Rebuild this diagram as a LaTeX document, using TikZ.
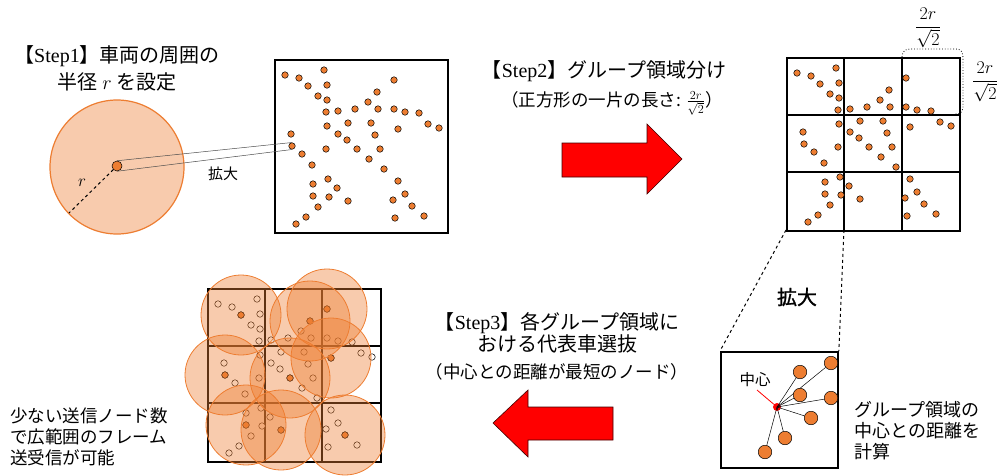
\documentclass[tikz,border=0pt]{standalone}
\usepackage{fix-cm}
\usepackage{fontspec}
\setmainfont{Liberation Serif}
\newfontfamily\jp{Noto Sans CJK JP}
\newfontfamily\jpb[FakeBold=1.2]{Noto Sans CJK JP}
\usetikzlibrary{calc}
\definecolor{org}{HTML}{ED7D31}
\definecolor{lorg}{HTML}{F8CBAD}
\newcommand\stp[1]{{\rmfamily #1}}
\begin{document}
\begin{tikzpicture}[x=1pt,y=-1pt,
  dot/.style={circle, fill=org, draw=black, line width=0.5pt, inner sep=0pt, minimum size=6.5pt},
  odot/.style={dot, fill=white},
  bigdot/.style={dot, minimum size=13.5pt},
  frame/.style={draw=black, line width=1.8pt, inner sep=0pt, anchor=north west, minimum size=173pt},
  gridline/.style={line width=1.3pt},
  jtext/.style={font=\jp\fontsize{20}{27}\selectfont, align=center, inner sep=0pt},
  redarrow/.style={fill=red, draw=black!75!red, line width=0.6pt},
  cover/.style={circle, fill=org, fill opacity=0.4, draw=org, line width=0.8pt, minimum size=80pt, inner sep=0pt},
  link/.style={draw=gray!60!black, line width=0.5pt},
  zdash/.style={dashed, line width=1pt}
]
\useasboundingbox (0,0) rectangle (998,475);
\def\dotlist{11/16,25/19,50/11,34/27,53/26,44/37,53/41,120/21,103/33,94/43,52/53,64/52,81/50,104/50,120/50,131/53,145/54,53/67,74/64,97/64,154/65,165/69,124/70,17/75,64/75,101/76,18/87,73/81,52/90,83/90,106/90,28/95,95/100,38/106,110/110,54/120,39/125,124/122,63/129,39/137,55/138,131/135,74/142,119/141,44/148,138/147,32/158,121/159,150/157,22/165}
\def\replist{34/27,120/21,103/33,124/70,18/87,83/90,39/137,74/142,138/147}

% ---------- Step 1 ----------
\node[jtext] (s1) at (117,68) {【\stp{Step1}】車両の周囲の\\半径 $r$ を設定};
\node[circle, fill=lorg, draw=org, line width=1.2pt, minimum size=134pt, inner sep=0pt] (zone) at (117,167) {};
\node[dot, minimum size=10pt] (veh) at (117,166) {};
\coordinate (redge) at (69,213);
\draw[dashed, line width=1pt] (veh) -- (redge);
\node[font=\fontsize{17}{17}\selectfont, inner sep=0pt] (rlab) at (82,183) {$r$};

% ---------- Box 1 ----------
\node[frame] (B1) at (274,59) {};
\foreach \x/\y [count=\k] in \dotlist {
  \node[dot] (a\k) at (274+\x,59+\y) {};
}
\draw[link] (veh.north) -- (a27.north);
\draw[link] (veh.south) -- (a27.south);
\node[font=\jp\fontsize{15}{15}\selectfont, inner sep=0pt] (zl1) at (223,174) {拡大};

% ---------- Step 2 ----------
\node[jtext] (s2) at (604,71) {【\stp{Step2}】グループ領域分け};
\node[font=\jp\fontsize{17.5}{17.5}\selectfont, inner sep=0pt] (s2b) at (612,103) {（正方形の一片の長さ: $\frac{2r}{\sqrt{2}}$）};
\draw[redarrow] (562,143) -- (647,143) -- (647,124) -- (682,159) -- (647,194) -- (647,177) -- (562,177) -- cycle;

% ---------- Box 2 (grid) ----------
\draw[gridline] (844,57) -- (844,230) (902,57) -- (902,230) (786,115) -- (959,115) (786,172) -- (959,172);
\node[frame] (B2) at (786,57) {};
\foreach \x/\y [count=\k] in \dotlist {
  \node[dot] (g\k) at (786+\x,57+\y) {};
}
\draw[dotted, line width=0.8pt] (902,57) .. controls (903,50) and (905,49) .. (912,49) -- (955,49) .. controls (962,49) and (963,52) .. (963,60) -- (963,105) .. controls (963,112) and (961,114) .. (955,114);
\node[font=\fontsize{18}{18}\selectfont, inner sep=0pt] (f1) at (928,28) {$\displaystyle\frac{2r}{\sqrt{2}}$};
\node[font=\fontsize{18}{18}\selectfont, inner sep=0pt] (f2) at (985,82) {$\displaystyle\frac{2r}{\sqrt{2}}$};

% ---------- zoomed cell ----------
\node[draw=black, line width=1.8pt, inner sep=0pt, anchor=north west, minimum width=117pt, minimum height=116pt] (Z) at (720,351) {};
\coordinate (c1) at (786,230);
\coordinate (c2) at (844,230);
\draw[zdash] (c1) -- (Z.north west);
\draw[zdash] (c2) -- (Z.north east);
\node[font=\jpb\fontsize{20}{20}\selectfont, inner sep=0pt] (zl2) at (797,297) {拡大};
\node[circle, fill=red, inner sep=0pt, minimum size=8pt] (ctr) at (777,407) {};
\coordinate (ptr) at (757,390);
\draw[red, line width=0.8pt] (ctr) -- (ptr);
\node[font=\jp\fontsize{15.5}{15.5}\selectfont, inner sep=0pt] (ctrlab) at (755,380) {中心};
\foreach \x/\y [count=\k] in {800/372,831/363,800/395,831/398,811/418,785/438,765/452} {
  \node[bigdot] (o\k) at (\x,\y) {};
  \draw[line width=0.5pt] (ctr.center) -- (o\k);
}
\node[font=\jp\fontsize{18}{21}\selectfont, align=left, anchor=west, inner sep=0pt] (calc) at (854,431) {グループ領域の\\中心との距離を\\計算};

% ---------- Step 3 ----------
\node[jtext, font=\jp\fontsize{20}{21.5}\selectfont] (s3) at (557,333) {【\stp{Step3}】各グループ領域に\\おける代表車選抜};
\node[font=\jp\fontsize{17.5}{17.5}\selectfont, inner sep=0pt] (s3b) at (557,372) {（中心との距離が最短のノード）};
\draw[redarrow] (613,407) -- (528,407) -- (528,390) -- (493,423) -- (528,457) -- (528,440) -- (613,440) -- cycle;

% ---------- Box 3 ----------
\draw[gridline] (265,288) -- (265,461) (322,288) -- (322,461) (207,346) -- (380,346) (207,403) -- (380,403);
\node[frame] (B3) at (207,288) {};
\foreach \x/\y [count=\k] in \dotlist {
  \node[odot] (w\k) at (207+\x,288+\y) {};
}
\foreach \x/\y [count=\k] in \replist {
  \node[dot] (rp\k) at (207+\x,288+\y) {};
}
\foreach \x/\y [count=\k] in \replist {
  \node[cover] (cv\k) at (207+\x,288+\y) {};
}
\node[font=\jp\fontsize{17.5}{21}\selectfont, align=left, anchor=west, inner sep=0pt] (res) at (10,437) {少ない送信ノード数\\で広範囲のフレーム\\送受信が可能};
\end{tikzpicture}
\end{document}
